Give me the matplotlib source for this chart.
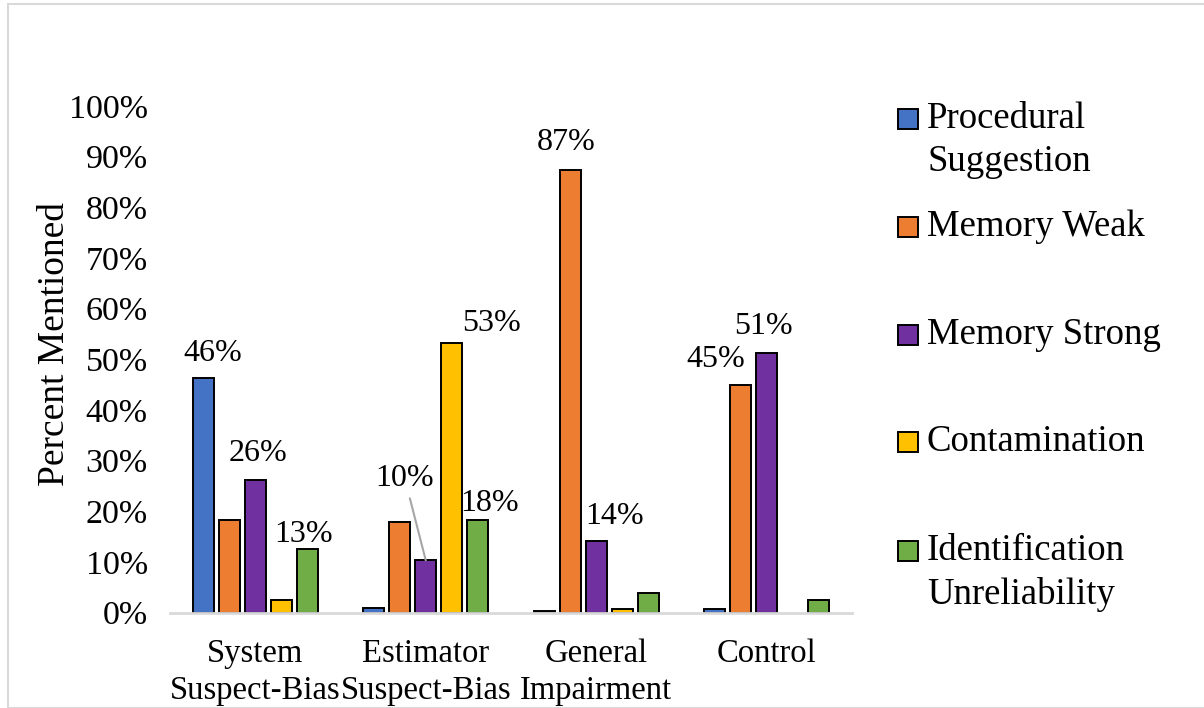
import matplotlib
matplotlib.use("Agg")
import matplotlib.pyplot as plt
from matplotlib.patches import Rectangle
import numpy as np

# ---- data -------------------------------------------------------------
categories = ["System\nSuspect-Bias", "Estimator\nSuspect-Bias", "General\nImpairment", "Control"]
series_names = ["Procedural\nSuggestion", "Memory Weak", "Memory Strong", "Contamination",
                "Identification\nUnreliability"]
procedural_suggestion = [46.3, 0.9, 0.3, 0.6]
memory_weak = [18.2, 17.8, 87.3, 45.0]
memory_strong = [26.1, 10.3, 14.2, 51.3]
contamination = [2.4, 53.2, 0.6, 0.0]
identification_unreliability = [12.6, 18.3, 3.8, 2.4]
yticks = [0, 10, 20, 30, 40, 50, 60, 70, 80, 90, 100]
colors = ["#4472C4", "#ED7D31", "#7030A0", "#FFC000", "#70AD47"]

series = [procedural_suggestion, memory_weak, memory_strong, contamination,
          identification_unreliability]

# labelled bars: (series, category) -> label offset in pixels from bar top
labelled = {
    (0, 0): (10, 24),
    (2, 0): (3, 27),
    (4, 0): (-4, 14),
    (3, 1): (40, 20),
    (4, 1): (12, 16),
    (1, 2): (-4, 28),
    (2, 2): (18, 24),
    (1, 3): (-25, 25),
    (2, 3): (-3, 26),
}
# label pulled away with a leader line
leader = {(2, 1): (-21, 82)}

plt.rcParams["font.family"] = ["Liberation Serif", "DejaVu Serif"]

W, H = 1204, 708
fig = plt.figure(figsize=(W / 100, H / 100), dpi=100)

# outer frame of the chart area
fig.patches.append(Rectangle((8 / W, 0), 1.2, 1 - 4 / H, transform=fig.transFigure,
                             fill=False, edgecolor="#d9d9d9", linewidth=1.5))

ax = fig.add_axes([170 / W, (H - 612.5) / H, (852 - 170) / W, (612.5 - 106) / H])

x = np.arange(len(categories))
pitch = 0.1525
width = 0.126
n = len(series)
for i, vals in enumerate(series):
    pos = x + (i - (n - 1) / 2) * pitch
    ax.bar(pos, vals, width=width, color=colors[i], edgecolor="black",
           linewidth=[1.4 if v > 0 else 0 for v in vals], zorder=3)
    for j, v in enumerate(vals):
        key = (i, j)
        if key in labelled:
            dx, dy = labelled[key]
            ax.annotate(f"{round(v)}%", (pos[j], v), xytext=(dx, dy),
                        textcoords="offset pixels", ha="center", va="center",
                        fontsize=23, zorder=5)
        elif key in leader:
            dx, dy = leader[key]
            ax.annotate(f"{round(v)}%", (pos[j], v), xytext=(dx, dy),
                        textcoords="offset pixels", ha="center", va="center",
                        fontsize=23, zorder=5,
                        arrowprops=dict(arrowstyle="-", color="#a6a6a6", lw=1.5,
                                        shrinkA=2, shrinkB=0))

ax.set_xlim(-0.5, len(categories) - 0.5)
ax.set_ylim(0, 100)
ax.set_yticks(yticks)
ax.set_yticklabels([f"{t}%" for t in yticks], fontsize=24.5)
ax.set_xticks(x)
ax.set_xticklabels(categories, fontsize=23.5, linespacing=1.25)
ax.tick_params(axis="y", length=0, pad=16)
ax.tick_params(axis="x", length=0, pad=19)
ax.set_ylabel("Percent Mentioned", fontsize=27, va="center")
ax.yaxis.set_label_coords(-0.169, 0.53)

for s in ["top", "right", "left"]:
    ax.spines[s].set_visible(False)
ax.spines["bottom"].set_color("#d9d9d9")
ax.spines["bottom"].set_linewidth(2)
ax.spines["bottom"].set_zorder(4)

# legend: swatch aligned with the first line of each entry
legend_y = [119, 227, 335, 442, 551]
for name, c, yy in zip(series_names, colors, legend_y):
    fig.patches.append(Rectangle((898 / W, (H - yy - 10) / H), 20 / W, 20 / H,
                                 transform=fig.transFigure, facecolor=c,
                                 edgecolor="black", linewidth=1.4))
    fig.text(927 / W, (H - yy) / H, name.split("\n")[0], fontsize=26.5,
             ha="left", va="center")
    if "\n" in name:
        fig.text(927 / W, (H - yy - 43) / H, name.split("\n")[1], fontsize=26.5,
                 ha="left", va="center")

fig.savefig("out.png", dpi=100)
